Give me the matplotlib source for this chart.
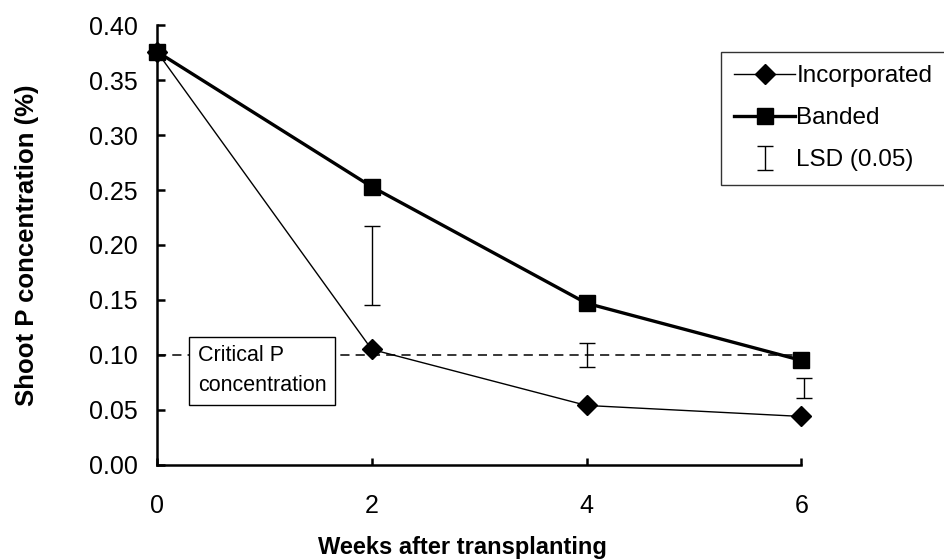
import matplotlib
matplotlib.use("Agg")
import matplotlib.pyplot as plt

plt.rcParams["font.family"] = ["Liberation Sans", "DejaVu Sans"]

weeks = [0, 2, 4, 6]
incorporated = [0.376, 0.105, 0.054, 0.044]
banded = [0.376, 0.253, 0.147, 0.095]

# LSD (0.05) bars: centre and half-length at weeks 2, 4, 6
lsd_weeks = [2, 4, 6]
lsd_mid = [0.181, 0.100, 0.070]
lsd_half = [0.036, 0.011, 0.009]

critical_p = 0.10

fig = plt.figure(figsize=(9.45, 5.6), dpi=100)
ax = fig.add_axes([0.166, 0.170, 0.682, 0.785])

ax.plot([weeks[0], weeks[-1]], [critical_p, critical_p], color="black",
        lw=1.1, dashes=(6, 4), zorder=1)

ax.plot(weeks, incorporated, color="black", lw=1.0, marker="D",
        markersize=10, clip_on=False, zorder=3, label="Incorporated")
ax.plot(weeks, banded, color="black", lw=2.4, marker="s",
        markersize=11.5, clip_on=False, zorder=4, label="Banded")
ax.errorbar([w + 0.02 if w == 6 else w for w in lsd_weeks], lsd_mid,
            yerr=lsd_half, fmt="none", ecolor="black", elinewidth=1.0,
            capsize=5.5, capthick=1.0, clip_on=False, zorder=2,
            label="LSD (0.05)")

ax.text(0.38, 0.0855, "Critical P\nconcentration", fontsize=15.5,
        ha="left", va="center", linespacing=1.55, zorder=5,
        bbox=dict(boxstyle="square,pad=0.4", fc="white", ec="black", lw=1.0))

ax.set_xlim(0, 6)
ax.set_ylim(0, 0.40)
ax.set_xticks(weeks)
ax.set_yticks([i * 0.05 for i in range(9)])
ax.set_yticklabels([f"{i * 0.05:.2f}" for i in range(9)])

for side in ("top", "right"):
    ax.spines[side].set_visible(False)
for side in ("left", "bottom"):
    ax.spines[side].set_linewidth(1.8)

ax.tick_params(axis="y", direction="in", length=6, width=1.8,
               labelsize=18, pad=14)
ax.tick_params(axis="x", direction="in", length=5, width=1.8,
               labelsize=18, pad=21)

ax.set_xlabel("Weeks after transplanting", fontsize=17, fontweight="bold")
ax.set_ylabel("Shoot P concentration (%)", fontsize=18.5, fontweight="bold")
ax.xaxis.set_label_coords(0.474, -0.163)
ax.yaxis.set_label_coords(-0.183, 0.5)

leg = ax.legend(loc="upper left", bbox_to_anchor=(0.763, 0.907),
                bbox_transform=fig.transFigure, fontsize=17.5, frameon=True,
                fancybox=False, borderpad=0.55, labelspacing=0.82,
                handlelength=2.5, handletextpad=0.05, borderaxespad=0)
leg.get_frame().set_edgecolor("black")
leg.get_frame().set_linewidth(1.0)

fig.savefig("out.png", dpi=100)
